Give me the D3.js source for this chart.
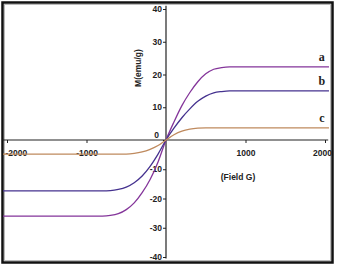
<!DOCTYPE html>
<html>
<head>
<meta charset="utf-8">
<script src="https://cdn.jsdelivr.net/npm/d3@7"></script>
<style>
  body { margin: 0; background: #fff; }
  .chart text { font-family: "Liberation Sans", Arial, sans-serif; font-weight: bold; fill: #222; }
</style>
</head>
<body>
<svg class="chart" width="337" height="267"></svg>
<script>
// field values (G) and magnetisation (emu/g)
var field = [-2050, -1500, -1000, -900, -800, -700, -600, -500, -400, -300, -200, -100, 0,
             100, 200, 300, 400, 500, 600, 700, 800, 900, 1000, 1500, 2050]
var series_a = [-26, -26, -26, -26, -26, -25.8, -25.2, -23.8, -21.5, -18, -13.5, -7.5, 0,
                5.5, 10.5, 14.5, 17.8, 20.2, 21.6, 22.1, 22.3, 22.3, 22.3, 22.3, 22.3]
var series_b = [-17.4, -17.4, -17.4, -17.4, -17.4, -17.3, -16.9, -16.1, -14.6, -12.3, -9, -4.8, 0,
                3.6, 6.8, 9.5, 11.8, 13.4, 14.4, 14.8, 15, 15, 15, 15, 15]
var series_c = [-4.8, -4.8, -4.8, -4.8, -4.8, -4.8, -4.8, -4.8, -4.6, -4.1, -3.2, -1.9, 0,
                1.6, 2.7, 3.3, 3.6, 3.7, 3.7, 3.7, 3.7, 3.7, 3.7, 3.7, 3.7]
var series_names = ["a", "b", "c"]
var x_ticks = [-2000, -1000, 1000, 2000]
var y_ticks = [-40, -30, -20, -10, 0, 10, 20, 30, 40]

var colors = {a: "#84359a", b: "#45328f", c: "#bf8a5e"}

var svg = d3.select(".chart")

// frame
svg.append("rect")
  .attr("x", 2.5).attr("y", 2.5).attr("width", 330).attr("height", 260)
  .attr("fill", "none").attr("stroke", "#111").attr("stroke-width", 2.5)
svg.append("rect")
  .attr("x", 4.5).attr("y", 4.5).attr("width", 326).attr("height", 256)
  .attr("fill", "none").attr("stroke", "#bbb").attr("stroke-width", 1)

var x_scaler = d3.scaleLinear()
    .domain([-2000, 2000])
    .range([7, 325])

var y_scaler = d3.scaleLinear()
    .domain([-40, 0, 40])
    .range([257, 140, 9])

var plain = function(d) { return String(d) }

// x axis
var xg = svg.append("g")
  .attr("transform", "translate(0," + y_scaler(0) + ")")
  .call(d3.axisBottom(x_scaler).tickValues(x_ticks).tickFormat(plain)
        .tickSize(3).tickPadding(7).tickSizeOuter(0))
xg.select(".domain").remove()
xg.append("line")
  .attr("x1", x_scaler(-2060)).attr("x2", x_scaler(2040))
  .attr("stroke", "#222").attr("stroke-width", 1.2)
xg.selectAll("text").style("font-size", "8.5px").attr("fill", "#222")
xg.selectAll("line").attr("stroke", "#222")
xg.selectAll(".tick")
  .filter(function(d) { return d == -2000 })
  .select("text")
  .attr("text-anchor", "start").attr("x", -2)
xg.selectAll(".tick")
  .filter(function(d) { return d == 2000 })
  .select("text")
  .attr("x", -3)

// y axis
var yg = svg.append("g")
  .attr("transform", "translate(" + x_scaler(0) + ",0)")
  .call(d3.axisLeft(y_scaler).tickValues(y_ticks).tickFormat(plain)
        .tickSize(3).tickPadding(1).tickSizeOuter(0))
yg.select(".domain").remove()
yg.append("line")
  .attr("y1", y_scaler(41)).attr("y2", y_scaler(-40.5))
  .attr("stroke", "#222").attr("stroke-width", 1.2)
yg.selectAll("text").style("font-size", "8.5px").attr("fill", "#222")
yg.selectAll("line").attr("stroke", "#222")
yg.selectAll(".tick")
  .filter(function(d) { return d == 0 })
  .select("text")
  .attr("x", -7).attr("dy", "-0.35em")

// axis titles
svg.append("text")
  .attr("transform", "translate(141,68) rotate(-90)")
  .attr("text-anchor", "middle")
  .style("font-size", "8.5px")
  .text("M(emu/g)")

svg.append("text")
  .attr("x", 238).attr("y", 180)
  .attr("text-anchor", "middle")
  .style("font-size", "8.5px")
  .text("(Field G)")

// curves
var all_series = {a: series_a, b: series_b, c: series_c}
var line = d3.line()
  .x(function(d) { return x_scaler(d[0]) })
  .y(function(d) { return y_scaler(d[1]) })
  .curve(d3.curveMonotoneX)

series_names.forEach(function(name) {
    var pts = field.map(function(h, i) { return [h, all_series[name][i]] })
    svg.append("path")
      .datum(pts)
      .attr("d", line)
      .attr("fill", "none")
      .attr("stroke", colors[name])
      .attr("stroke-width", 1.3)
      .classed("curve", true)

    svg.append("text")
      .attr("x", x_scaler(1960))
      .attr("y", y_scaler(all_series[name][field.length - 1]) - 6)
      .attr("text-anchor", "middle")
      .style("font-family", "'Liberation Serif', 'Times New Roman', serif")
      .style("font-size", "12px")
      .text(name)
})
</script>
</body>
</html>
